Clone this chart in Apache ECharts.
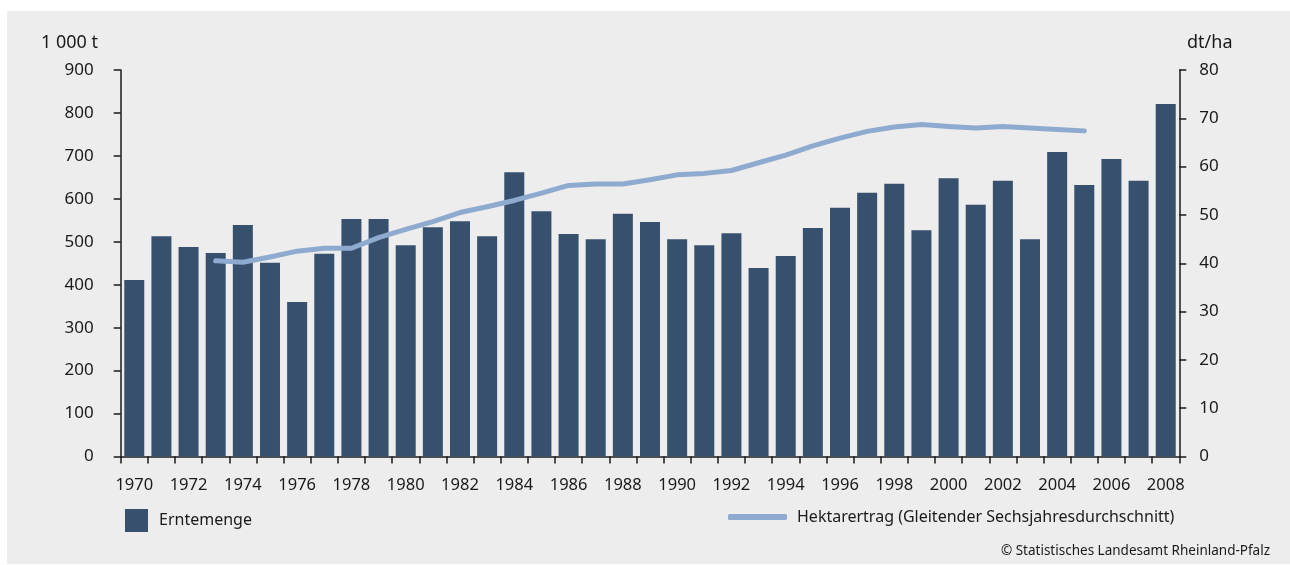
<!DOCTYPE html>
<html>
<head>
<meta charset="utf-8">
<script src="https://cdn.jsdelivr.net/npm/echarts@6/dist/echarts.min.js"></script>
<style>
html,body{margin:0;padding:0;background:#fff;}
#c{width:1290px;height:565px;}
</style>
</head>
<body>
<div id="c"></div>
<script>
var years = [];
for (var y = 1970; y <= 2008; y++) years.push(String(y));

var erntemenge = [411, 513, 488, 474, 539, 451, 360, 472, 553, 553,
                  492, 534, 548, 513, 662, 571, 518, 506, 565, 546,
                  506, 492, 520, 439, 467, 532, 579, 614, 635, 527,
                  648, 586, 642, 506, 709, 632, 693, 642, 821];

var hektarertrag = [null, null, null, 40.5, 40.2, 41.3, 42.5, 43.1, 43.1, 45.3,
                    47.0, 48.6, 50.5, 51.7, 53.0, 54.5, 56.1, 56.4, 56.4, 57.3,
                    58.3, 58.6, 59.2, 60.8, 62.4, 64.3, 65.9, 67.3, 68.2, 68.7,
                    68.3, 68.0, 68.3, 68.0, 67.7, 67.4, null, null, null];

var leftTicks = {min: 0, max: 900, interval: 100};
var rightTicks = {min: 0, max: 80, interval: 10};

var seriesNames = ['Erntemenge', 'Hektarertrag (Gleitender Sechsjahresdurchschnitt)'];
var unitLeft = '1 000 t';
var unitRight = 'dt/ha';
var source = '\u00A9 Statistisches Landesamt Rheinland-Pfalz';

var FONT = '"Noto Sans", "Open Sans", sans-serif';
var TXT = '#1a1a1a';
var BAR = '#36506e';
var LINE = '#8faacf';

var chart = echarts.init(document.getElementById('c'), null, {renderer: 'canvas'});
chart.setOption({
  animation: false,
  textStyle: {fontFamily: FONT, color: TXT},
  graphic: [{
    type: 'rect', z: -10, silent: true,
    shape: {x: 7, y: 11, width: 1283, height: 553},
    style: {fill: '#ededed'}
  }],
  title: [
    {text: unitLeft, left: 41, top: 34, padding: 0, textStyle: {fontFamily: FONT, fontSize: 18, fontWeight: 'normal', color: TXT}},
    {text: unitRight, left: 1187, top: 34, padding: 0, textStyle: {fontFamily: FONT, fontSize: 18, fontWeight: 'normal', color: TXT}},
    {text: source, right: 20, top: 544, padding: 0, textStyle: {fontFamily: FONT, fontSize: 13.5, fontWeight: 'normal', color: TXT}}
  ],
  legend: [
    {data: [seriesNames[0]], left: 125, top: 509, padding: 0, itemWidth: 23, itemHeight: 23, icon: 'rect',
     textStyle: {fontFamily: FONT, fontSize: 16, color: TXT, padding: [0, 0, 0, 6]}},
    {data: [seriesNames[1]], left: 728, top: 509, padding: 0, itemWidth: 59, itemHeight: 6, icon: 'roundRect',
     textStyle: {fontFamily: FONT, fontSize: 16, color: TXT, padding: [0, 0, 0, 5]}}
  ],
  grid: {left: 120.7, right: 110.7, top: 70, bottom: 108.5, containLabel: false},
  xAxis: {
    type: 'category', data: years, boundaryGap: true,
    axisLine: {show: true, lineStyle: {color: TXT, width: 1.5}},
    axisTick: {show: true, interval: 0, length: 7, lineStyle: {color: TXT, width: 1.5}},
    axisLabel: {interval: 1, margin: 20, fontSize: 16.5, color: TXT, fontFamily: FONT},
    splitLine: {show: false}
  },
  yAxis: [
    {type: 'value', min: leftTicks.min, max: leftTicks.max, interval: leftTicks.interval,
     axisLine: {show: true, lineStyle: {color: TXT, width: 1.5}},
     axisTick: {show: true, length: 7, lineStyle: {color: TXT, width: 1.5}},
     axisLabel: {margin: 27, fontSize: 17, color: TXT, fontFamily: FONT},
     splitLine: {show: false}},
    {type: 'value', min: rightTicks.min, max: rightTicks.max, interval: rightTicks.interval, position: 'right',
     axisLine: {show: true, lineStyle: {color: TXT, width: 1.5}},
     axisTick: {show: true, length: 7, lineStyle: {color: TXT, width: 1.5}},
     axisLabel: {margin: 20, fontSize: 17, color: TXT, fontFamily: FONT},
     splitLine: {show: false}}
  ],
  series: [
    {name: seriesNames[0], type: 'bar', yAxisIndex: 0, data: erntemenge, barWidth: 20,
     itemStyle: {color: BAR}},
    {name: seriesNames[1], type: 'line', yAxisIndex: 1, data: hektarertrag, showSymbol: false, symbol: 'none',
     connectNulls: false, z: 5,
     lineStyle: {color: LINE, width: 5, cap: 'round', join: 'round'}, itemStyle: {color: LINE}}
  ]
});
</script>
</body>
</html>
